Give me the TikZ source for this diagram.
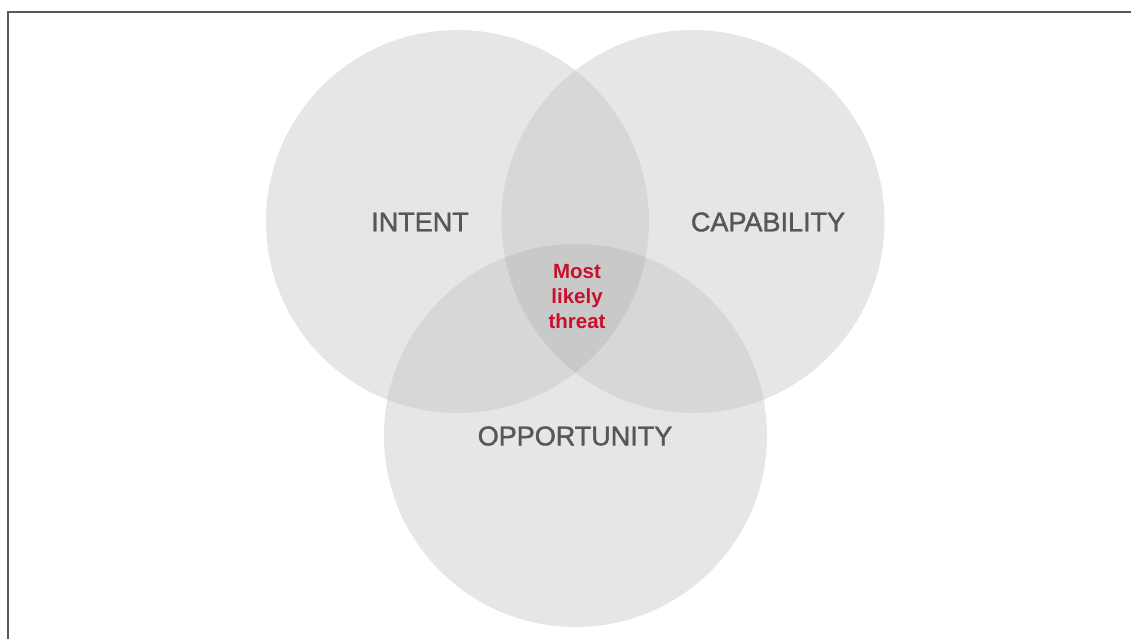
\documentclass[tikz,border=0pt]{standalone}
\usepackage{fontspec}
\setmainfont{Liberation Sans}
\newfontfamily\labfont[FakeBold=1.5]{Liberation Sans}
\definecolor{one}{HTML}{E6E6E6}
\definecolor{two}{HTML}{D7D7D7}
\definecolor{three}{HTML}{C9C9C9}
\definecolor{lbl}{HTML}{575757}
\definecolor{threatred}{HTML}{C8102E}
\begin{document}
\begin{tikzpicture}[x=1pt,y=-1pt,
  lab/.style={text=lbl,font=\labfont\fontsize{27}{30}\selectfont},
  hot/.style={text=threatred,font=\bfseries\fontsize{20.5}{25}\selectfont,align=center}]
\useasboundingbox (0,0) rectangle (1131,639);
\def\ci{(457.5,221.5) circle (191.5)}
\def\cc{(693,221.5) circle (191.5)}
\def\co{(575.5,435.5) circle (191.5)}
\fill[one] \ci; \fill[one] \cc; \fill[one] \co;
\begin{scope}\clip \ci; \fill[two] \cc; \fill[two] \co; \end{scope}
\begin{scope}\clip \cc; \fill[two] \co; \end{scope}
\begin{scope}\clip \ci; \clip \cc; \fill[three] \co; \end{scope}
\draw[line width=1.5pt,color=black!65] (8,639) -- (8,12) -- (1131,12);
\node[lab] (intent) at (420,222) {INTENT};
\node[lab] (capability) at (768,222) {CAPABILITY};
\node[lab] (opportunity) at (575,436) {OPPORTUNITY};
\node[hot] (threat) at (577,297) {Most\\likely\\threat};
\end{tikzpicture}
\end{document}
